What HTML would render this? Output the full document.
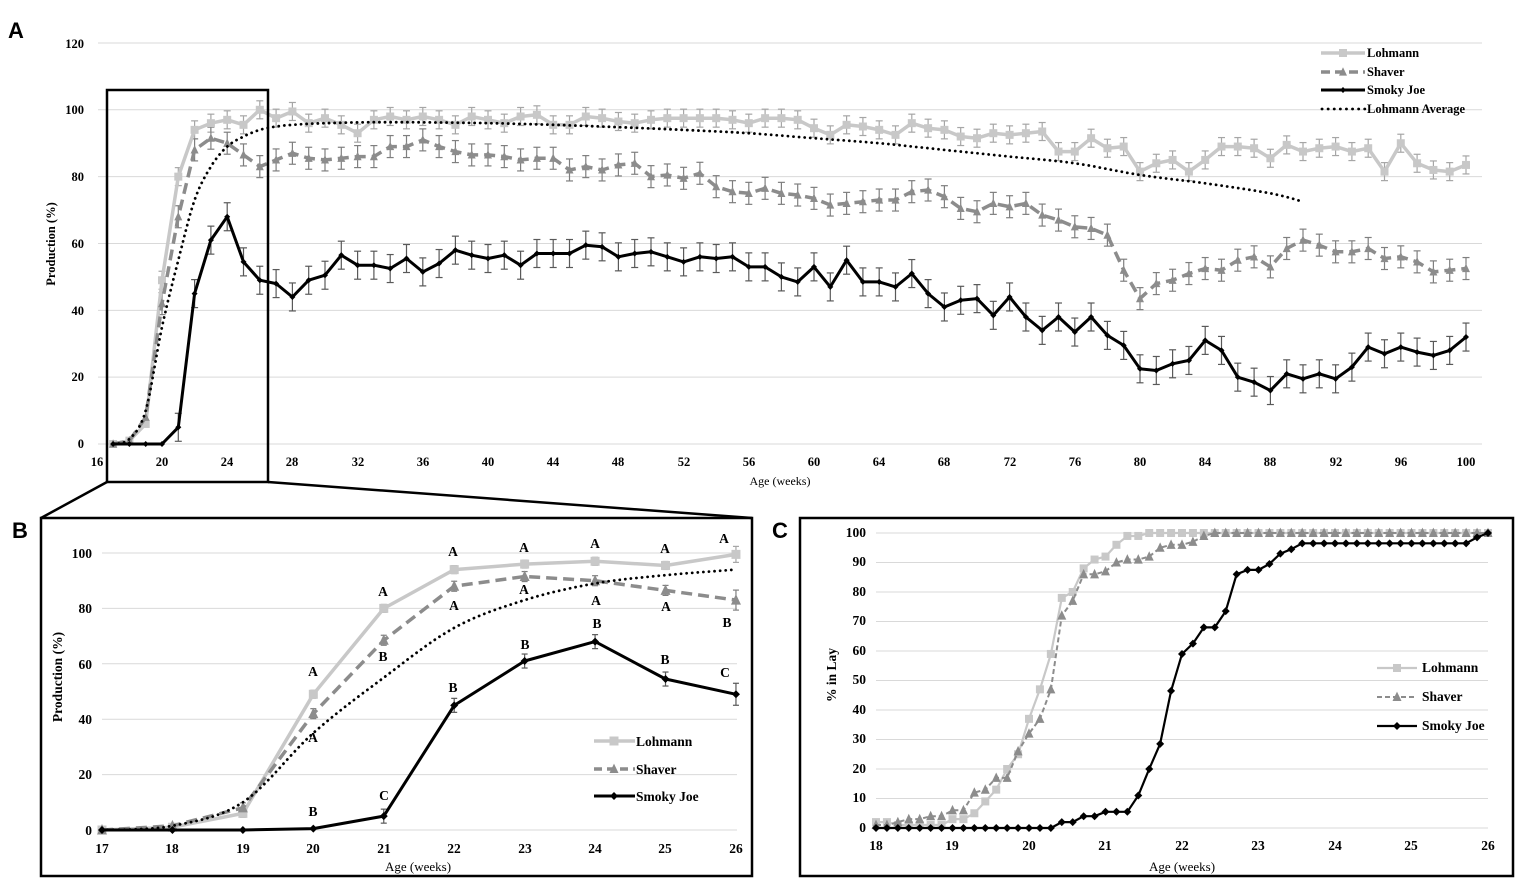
<!DOCTYPE html>
<html><head><meta charset="utf-8">
<style>
html,body{margin:0;padding:0;background:#fff;}
svg{display:block;}
.t{font-family:"Liberation Serif",serif;font-weight:bold;font-size:12.5px;fill:#000;}
.t2{font-family:"Liberation Serif",serif;font-weight:bold;font-size:13.5px;fill:#000;}
.tl{font-family:"Liberation Serif",serif;font-size:12.5px;fill:#000;}
.pl{font-family:"Liberation Sans",sans-serif;font-weight:bold;font-size:22px;fill:#000;}
</style></head>
<body>
<svg id="s" width="1535" height="896" viewBox="0 0 1535 896" xmlns="http://www.w3.org/2000/svg">
<g id="grid"></g>
<text class="pl" x="8" y="38">A</text>
<text class="pl" x="12" y="538">B</text>
<text class="pl" x="772" y="538">C</text>

<g class="t" text-anchor="end">
<text x="84" y="48">120</text><text x="84" y="114">100</text><text x="84" y="181">80</text>
<text x="84" y="248">60</text><text x="84" y="315">40</text><text x="84" y="381">20</text><text x="84" y="448">0</text>
</g>
<g class="t" text-anchor="middle">
<text x="97" y="466">16</text><text x="162" y="466">20</text><text x="227" y="466">24</text><text x="292" y="466">28</text>
<text x="358" y="466">32</text><text x="423" y="466">36</text><text x="488" y="466">40</text><text x="553" y="466">44</text>
<text x="618" y="466">48</text><text x="684" y="466">52</text><text x="749" y="466">56</text><text x="814" y="466">60</text>
<text x="879" y="466">64</text><text x="944" y="466">68</text><text x="1010" y="466">72</text><text x="1075" y="466">76</text>
<text x="1140" y="466">80</text><text x="1205" y="466">84</text><text x="1270" y="466">88</text><text x="1336" y="466">92</text>
<text x="1401" y="466">96</text><text x="1466" y="466">100</text>
</g>
<text class="tl" x="780" y="485" text-anchor="middle" style="font-size:12px">Age (weeks)</text>
<text class="t" transform="translate(55,244) rotate(-90)" text-anchor="middle">Production (%)</text>
<g class="t">
<text x="1367" y="57">Lohmann</text><text x="1367" y="76">Shaver</text>
<text x="1367" y="94">Smoky Joe</text><text x="1367" y="113">Lohmann Average</text>
</g>

<g class="t2" text-anchor="end">
<text x="92" y="558">100</text><text x="92" y="613">80</text><text x="92" y="669">60</text>
<text x="92" y="724">40</text><text x="92" y="779">20</text><text x="92" y="835">0</text>
</g>
<g class="t2" text-anchor="middle">
<text x="102" y="853">17</text><text x="172" y="853">18</text><text x="243" y="853">19</text><text x="313" y="853">20</text>
<text x="384" y="853">21</text><text x="454" y="853">22</text><text x="525" y="853">23</text><text x="595" y="853">24</text>
<text x="665" y="853">25</text><text x="736" y="853">26</text>
</g>
<text class="tl" x="418" y="871" text-anchor="middle" style="font-size:13px">Age (weeks)</text>
<text class="t2" transform="translate(62,677) rotate(-90)" text-anchor="middle">Production (%)</text>
<g class="t2">
<text x="636" y="746">Lohmann</text><text x="636" y="774">Shaver</text><text x="636" y="801">Smoky Joe</text>
</g>
<g class="t2" text-anchor="middle">
<text x="313" y="676">A</text><text x="313" y="742">A</text><text x="313" y="816">B</text>
<text x="383" y="596">A</text><text x="383" y="661">B</text><text x="384" y="800">C</text>
<text x="453" y="556">A</text><text x="454" y="610">A</text><text x="453" y="692">B</text>
<text x="524" y="552">A</text><text x="524" y="594">A</text><text x="525" y="649">B</text>
<text x="595" y="548">A</text><text x="596" y="605">A</text><text x="597" y="628">B</text>
<text x="665" y="553">A</text><text x="666" y="611">A</text><text x="665" y="664">B</text>
<text x="724" y="543">A</text><text x="727" y="627">B</text><text x="725" y="677">C</text>
</g>

<g class="t2" text-anchor="end">
<text x="866" y="537">100</text><text x="866" y="566">90</text><text x="866" y="596">80</text><text x="866" y="625">70</text>
<text x="866" y="655">60</text><text x="866" y="684">50</text><text x="866" y="714">40</text><text x="866" y="743">30</text>
<text x="866" y="773">20</text><text x="866" y="802">10</text><text x="866" y="832">0</text>
</g>
<g class="t2" text-anchor="middle">
<text x="876" y="850">18</text><text x="952" y="850">19</text><text x="1029" y="850">20</text><text x="1105" y="850">21</text>
<text x="1182" y="850">22</text><text x="1258" y="850">23</text><text x="1335" y="850">24</text><text x="1411" y="850">25</text>
<text x="1488" y="850">26</text>
</g>
<text class="tl" x="1182" y="871" text-anchor="middle" style="font-size:13px">Age (weeks)</text>
<text class="t2" transform="translate(836,675) rotate(-90)" text-anchor="middle">% in Lay</text>
<g class="t2">
<text x="1422" y="672">Lohmann</text><text x="1422" y="701">Shaver</text><text x="1422" y="730">Smoky Joe</text>
</g>

<g id="data"></g>
<g fill="none" stroke="#000" stroke-width="2.5">
<rect x="107" y="90" width="161" height="392"/>
<line x1="107" y1="482" x2="41" y2="518"/>
<line x1="268" y1="482" x2="752" y2="518"/>
<rect x="41" y="518" width="711" height="358"/>
<rect x="800" y="518" width="713" height="358"/>
</g>
</svg>
<script>
var NS="http://www.w3.org/2000/svg";
var G=document.getElementById('grid'),D=document.getElementById('data');
function el(p,t,a){var e=document.createElementNS(NS,t);for(var k in a)e.setAttribute(k,a[k]);p.appendChild(e);return e;}
function line(p,x1,y1,x2,y2,c,w){el(p,'line',{x1:x1,y1:y1,x2:x2,y2:y2,stroke:c,'stroke-width':w||1});}
for(var v=0;v<=120;v+=20){var y=444-v*3.342;line(G,98,y,1482,y,'#d9d9d9',1);}
for(var v=0;v<=100;v+=20){var y=830-v*2.77;line(G,102,y,737,y,'#d9d9d9',1);}
for(var v=0;v<=100;v+=10){var y=828-v*2.95;line(G,876,y,1488,y,'#d9d9d9',1);}

function poly(pts,c,w,dash,cap){var s=pts.map(function(p){return p[0].toFixed(1)+','+p[1].toFixed(1)}).join(' ');
 var a={points:s,fill:'none',stroke:c,'stroke-width':w,'stroke-linejoin':'round'};if(dash)a['stroke-dasharray']=dash;if(cap)a['stroke-linecap']=cap;el(D,'polyline',a);}
function sq(x,y,s,c){el(D,'rect',{x:x-s/2,y:y-s/2,width:s,height:s,fill:c});}
function tri(x,y,s,c){el(D,'polygon',{points:(x)+','+(y-s*0.6)+' '+(x-s/2)+','+(y+s*0.45)+' '+(x+s/2)+','+(y+s*0.45),fill:c});}
function dia(x,y,s,c){el(D,'polygon',{points:x+','+(y-s/2)+' '+(x+s/2)+','+y+' '+x+','+(y+s/2)+' '+(x-s/2)+','+y,fill:c});}
function eb(x,y,e,c,cw){line(D,x,y-e,x,y+e,c,1.2);line(D,x-cw,y-e,x+cw,y-e,c,1.2);line(D,x-cw,y+e,x+cw,y+e,c,1.2);}
function smooth(ctrl,step){var o=[];for(var i=0;i<ctrl.length-1;i++){var p0=ctrl[Math.max(0,i-1)],p1=ctrl[i],p2=ctrl[i+1],p3=ctrl[Math.min(ctrl.length-1,i+2)];
 for(var t=0;t<1;t+=step){var t2=t*t,t3=t2*t;var f=function(a,b,c,d){return 0.5*((2*b)+(-a+c)*t+(2*a-5*b+4*c-d)*t2+(-a+3*b-3*c+d)*t3)};
 o.push([f(p0[0],p1[0],p2[0],p3[0]),f(p0[1],p1[1],p2[1],p3[1])]);}}o.push(ctrl[ctrl.length-1]);return o;}

var L=[0,1,6,49,80,94,96,97,95.5,100,97.5,99.5,96,97.5,95.5,93,97,98,97,98,97,95.5,98,97,96,98,98.5,95.5,95.5,98,97.5,96.5,96,97,97.5,97.5,97.5,97.5,97,96,97.5,97.5,97,94.5,92.5,95.5,95,94,92.5,96,94.5,94,92,91.5,93,92.5,93,93.5,87.5,87.5,91.5,88.5,89,81.5,84,85,81.5,85,89,89,88.5,85.5,89.5,87.5,88.5,89,87.5,88.5,81.5,90,84,82,81.5,83.5];
var S=[0,1,8,42,68,88,91.5,90,86.5,83,85,87,85.5,85,85.5,86,86,89,89,91,89,87.5,86.5,86.5,86,85,85.5,85.5,82,83,82,83.5,84,80,80.5,79.5,81,77,75.5,75,76.5,75,74.5,73.5,71.5,72,72.5,73,73,75.5,76,74,70.5,69.5,72,71,72,68.5,67,65,64.5,62.5,52,43.5,48,49,51,52.5,52,55,56,53,58.5,61,59.5,57.5,57.5,58.5,55.5,56,54.5,51.5,52,52.5];
var J=[0,0,0,0,5,45,61,68,54.5,49,48,44,49,50.5,56.5,53.5,53.5,52.5,55.5,51.5,54,58,56.5,55.5,56.5,53.5,57,57,57,59.5,59,56,57,57.5,56,54.5,56,55.5,56,53,53,50,48.5,53,47,55,48.5,48.5,47,51,45,41,43,43.5,38.5,44,38,34,38,33.5,38,32.5,29.5,22.5,22,24,25,31,28,20,18.5,16,21,19.5,21,19.5,23,29,27,29,27.5,26.5,28,32];
function ax(w){return 162+(w-20)*16.3;} function ay(v){return 444-v*3.342;}
function ptsA(a){return a.map(function(v,i){return [ax(17+i),ay(v)];});}
var avg=[[17,0],[18,1.5],[19,10],[20,35],[21,55],[22,73],[23,83],[24,89],[25,92],[26,94],[27,95],[28,95.5],[30,96],[34,96.3],[40,96],[44,95.5],[48,94.8],[52,94],[56,93],[60,91.5],[64,90],[68,88],[72,86],[76,84],[80,80.5],[84,78],[88,75],[90,72.5]].map(function(p){return [ax(p[0]),ay(p[1])];});
L.forEach(function(v,i){if(i>2)eb(ax(17+i),ay(v),9,'#a6a6a6',3.5);});
S.forEach(function(v,i){if(i>2)eb(ax(17+i),ay(v),11,'#7f7f7f',3.5);});
J.forEach(function(v,i){if(i>3)eb(ax(17+i),ay(v),14,'#595959',3.5);});
poly(ptsA(L),'#c8c8c8',3.5);
ptsA(L).forEach(function(p){sq(p[0],p[1],8,'#c8c8c8');});
poly(ptsA(S),'#8c8c8c',3.5,'11 6');
ptsA(S).forEach(function(p){tri(p[0],p[1],8,'#8c8c8c');});
poly(smooth(avg,0.1),'#000',2.8,'0.1 5.5','round');
poly(ptsA(J),'#000',3);
ptsA(J).forEach(function(p){dia(p[0],p[1],6,'#000');});
line(D,1321,53,1365,53,'#c8c8c8',3.5);sq(1343,53,8,'#c8c8c8');
el(D,'line',{x1:1321,y1:72,x2:1365,y2:72,stroke:'#8c8c8c','stroke-width':3.5,'stroke-dasharray':'9 5'});tri(1343,72,8,'#8c8c8c');
line(D,1321,90,1365,90,'#000',3);dia(1343,90,6,'#000');
el(D,'line',{x1:1322,y1:109,x2:1365,y2:109,stroke:'#000','stroke-width':2.8,'stroke-dasharray':'0.1 6','stroke-linecap':'round'});

function bx(w){return 102+(w-17)*70.44;} function by(v){return 830-v*2.77;}
var BL=[0,1,6,49,80,94,96,97,95.5,99.5],BS=[0,1.5,8,42,68.5,88,91.5,90,86.5,83],BJ=[0,0,0,0.5,5,45,61,68,54.5,49],BA=[0,1.5,10,35,55,73,83,89,92,94];
function ptsB(a){return a.map(function(v,i){return [bx(17+i),by(v)];});}
BL.forEach(function(v,i){if(i>1)eb(bx(17+i),by(v),i==9?8:4,'#a6a6a6',3);});
BS.forEach(function(v,i){if(i>1)eb(bx(17+i),by(v),i==9?10:5,'#7f7f7f',3);});
BJ.forEach(function(v,i){if(i>3)eb(bx(17+i),by(v),i==9?11:7,'#595959',3);});
poly(ptsB(BL),'#c8c8c8',3.5);ptsB(BL).forEach(function(p){sq(p[0],p[1],9,'#c8c8c8');});
poly(ptsB(BS),'#8c8c8c',3.5,'11 6');ptsB(BS).forEach(function(p){tri(p[0],p[1],10,'#8c8c8c');});
poly(smooth(ptsB(BA),0.1),'#000',2.8,'0.1 5.5','round');
poly(ptsB(BJ),'#000',3);ptsB(BJ).forEach(function(p){dia(p[0],p[1],8,'#000');});
line(D,594,741,635,741,'#c8c8c8',3.5);sq(614,741,9,'#c8c8c8');
el(D,'line',{x1:594,y1:769,x2:635,y2:769,stroke:'#8c8c8c','stroke-width':3.5,'stroke-dasharray':'8 5'});tri(614,769,9,'#8c8c8c');
line(D,594,796,635,796,'#000',3);dia(614,796,8,'#000');

function cx(d){return 876+d/7*76.5;} function cy(v){return 828-v*2.95;}
var CL=[2,2,1,1,1,1,1,3,3,5,9,13,20,25,37,47,59,78,80,88,91,92,96,99,99];
var CS=[1,1,2,3,3,4,4,6,6,12,13,17,17,26,32,37,47,72,77,86,86,87,90,91,91,92,95,96,96,97,99];
var CJ=[0,0,0,0,0,0,0,0,0,0,0,0,0,0,0,0,0,2,2,4,4,5.5,5.5,5.5,11,20,28.5,46.5,59,62.5,68,68,73.5,86,87.5,87.5,89.5,93,94.5];
while(CL.length<57)CL.push(100);while(CS.length<57)CS.push(100);while(CJ.length<55)CJ.push(96.5);CJ.push(98.5);CJ.push(100);
function ptsC(a){return a.map(function(v,i){return [cx(i),cy(v)];});}
poly(ptsC(CL),'#c8c8c8',2.2);ptsC(CL).forEach(function(p){sq(p[0],p[1],8,'#c8c8c8');});
poly(ptsC(CS),'#8c8c8c',2,'5 3');ptsC(CS).forEach(function(p){tri(p[0],p[1],9,'#8c8c8c');});
poly(ptsC(CJ),'#000',2.2);ptsC(CJ).forEach(function(p){dia(p[0],p[1],8,'#000');});
line(D,1377,668,1417,668,'#c8c8c8',2.2);sq(1397,668,8,'#c8c8c8');
el(D,'line',{x1:1377,y1:697,x2:1417,y2:697,stroke:'#8c8c8c','stroke-width':2,'stroke-dasharray':'5 3'});tri(1397,697,9,'#8c8c8c');
line(D,1377,726,1417,726,'#000',2.2);dia(1397,726,8,'#000');
</script>
</body></html>
